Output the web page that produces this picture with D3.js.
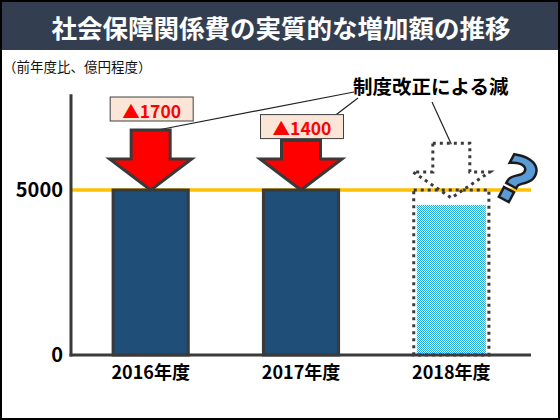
<!DOCTYPE html>
<html>
<head>
<meta charset="utf-8">
<script src="https://cdn.jsdelivr.net/npm/d3@7"></script>
<style>
  body { margin: 0; background: #fff; }
  svg text { font-family: "Noto Sans CJK JP", "Noto Sans", sans-serif; }
</style>
</head>
<body>
<script>
// chart data
var years = ["2016年度", "2017年度", "2018年度"];
var values = [5000, 5000, 4550];          // 2018 = after reduction (hatched)
var prevLevel = 5000;                     // dotted outline / orange line
var cuts = [1700, 1400, 1550];            // arrow lengths (2018 = unknown, dotted)
var cutLabels = ["▲1700", "▲1400", null];
var arrowTips = [5000, 5000, 4760];
var yTicks = [0, 5000];
var title = "社会保障関係費の実質的な増加額の推移";
var unitLabel = "（前年度比、億円程度）";
var calloutText = "制度改正による減";

var W = 560, H = 420;
var margin = {top: 95, left: 71, right: 29, bottom: 65};

var svg = d3.select("body").append("svg")
  .attr("width", W)
  .attr("height", H);

// checker pattern for the 2018 bar
var defs = svg.append("defs");
var pat = defs.append("pattern")
  .attr("id", "checker")
  .attr("width", 2).attr("height", 2)
  .attr("patternUnits", "userSpaceOnUse");
pat.append("rect").attr("width", 2).attr("height", 2).attr("fill", "#fff");
pat.append("rect").attr("width", 1).attr("height", 1).attr("fill", "#1EA6E6");
pat.append("rect").attr("x", 1).attr("y", 1).attr("width", 1).attr("height", 1).attr("fill", "#1EA6E6");

// title bar
svg.append("rect")
  .attr("width", W).attr("height", 50)
  .attr("fill", "#333F50");
svg.append("text")
  .attr("x", W / 2 + 1).attr("y", 26)
  .attr("text-anchor", "middle")
  .attr("dominant-baseline", "central")
  .attr("fill", "#fff")
  .style("font-size", "25.5px")
  .style("font-weight", "bold")
  .text(title);

svg.append("text")
  .attr("x", 3).attr("y", 66)
  .attr("dominant-baseline", "central")
  .style("font-size", "13.5px")
  .attr("fill", "#111")
  .text(unitLabel);

// scales
var xScale = d3.scaleBand()
  .domain(years)
  .range([margin.left, W - margin.right])
  .paddingInner(0.5)
  .paddingOuter(0.28);

var yScale = d3.scaleLinear()
  .domain([0, 5000])
  .range([355, 190]);

var arrowLen = d3.scaleLinear()
  .domain([0, 1700])
  .range([0, 60]);

// orange 5000 line
svg.append("line")
  .attr("x1", margin.left).attr("x2", W - margin.right)
  .attr("y1", yScale(prevLevel)).attr("y2", yScale(prevLevel))
  .attr("stroke", "#FFC000")
  .attr("stroke-width", 3.5);

// y axis (only line + two labels)
var yAxis = d3.axisLeft(yScale).tickValues(yTicks).tickFormat(d3.format("d")).tickSize(0).tickPadding(8);
var gy = svg.append("g")
  .attr("transform", "translate(" + margin.left + ",0)")
  .call(yAxis);
gy.select(".domain").remove();
gy.selectAll("text")
  .style("font-size", "20px")
  .style("font-weight", "bold")
  .attr("fill", "#000")
  .style("font-family", "'Noto Sans CJK JP', sans-serif");

svg.append("line")
  .attr("x1", margin.left).attr("x2", margin.left)
  .attr("y1", yScale(7900)).attr("y2", yScale(0) + 1.5)
  .attr("stroke", "#3A3A3A").attr("stroke-width", 3);

// bars 2016, 2017
svg.selectAll("rect.bar")
  .data(years.slice(0, 2))
  .enter()
  .append("rect")
  .attr("class", "bar")
  .attr("x", function(d) { return xScale(d); })
  .attr("y", function(d, i) { return yScale(values[i]); })
  .attr("width", xScale.bandwidth())
  .attr("height", function(d, i) { return yScale(0) - yScale(values[i]); })
  .attr("fill", "#1F4E79")
  .attr("stroke", "#3A3A3A")
  .attr("stroke-width", 3);

// 2018: hatched fill + dotted outline at previous level
var y18 = years[2];
svg.append("rect")
  .attr("x", xScale(y18) + 3)
  .attr("y", yScale(values[2]))
  .attr("width", xScale.bandwidth() - 6)
  .attr("height", yScale(0) - yScale(values[2]))
  .attr("fill", "url(#checker)");
svg.append("rect")
  .attr("x", xScale(y18))
  .attr("y", yScale(prevLevel))
  .attr("width", xScale.bandwidth())
  .attr("height", yScale(0) - yScale(prevLevel))
  .attr("fill", "none")
  .attr("stroke", "#3A3A3A")
  .attr("stroke-width", 3)
  .attr("stroke-dasharray", "3,4");

// x axis
svg.append("line")
  .attr("x1", margin.left - 1.5).attr("x2", W - margin.right)
  .attr("y1", yScale(0)).attr("y2", yScale(0))
  .attr("stroke", "#3A3A3A").attr("stroke-width", 3);

var xAxis = d3.axisBottom(xScale).tickSize(0).tickPadding(11);
var gx = svg.append("g")
  .attr("transform", "translate(0," + yScale(0) + ")")
  .call(xAxis);
gx.select(".domain").remove();
gx.selectAll("text")
  .style("font-size", "18px")
  .style("font-weight", "bold")
  .attr("fill", "#000")
  .style("font-family", "'Noto Sans CJK JP', sans-serif");

// down arrows
function arrowPath(cx, tipY, len, shaftW, headW, headH) {
  var top = tipY - len;
  var neck = tipY - headH;
  return "M" + (cx - shaftW / 2) + "," + top +
    "L" + (cx + shaftW / 2) + "," + top +
    "L" + (cx + shaftW / 2) + "," + neck +
    "L" + (cx + headW / 2) + "," + neck +
    "L" + cx + "," + tipY +
    "L" + (cx - headW / 2) + "," + neck +
    "L" + (cx - shaftW / 2) + "," + neck + "Z";
}

function arrowTop(i) {
  return yScale(arrowTips[i]) - arrowLen(cuts[i]);
}
function barCenter(i) {
  return xScale(years[i]) + xScale.bandwidth() / 2;
}

// callout text and leader lines (drawn below boxes/arrows)
svg.append("text")
  .attr("x", 353).attr("y", 85)
  .attr("dominant-baseline", "central")
  .style("font-size", "19.5px")
  .style("font-weight", "bold")
  .attr("fill", "#000")
  .text(calloutText);

var leaderStarts = [[354, 92], [358, 98], [432, 102]];
svg.selectAll("line.leader")
  .data(leaderStarts)
  .enter()
  .append("line")
  .attr("class", "leader")
  .attr("x1", function(d) { return d[0]; })
  .attr("y1", function(d) { return d[1]; })
  .attr("x2", function(d, i) { return barCenter(i) + (i == 0 ? 2 : 0); })
  .attr("y2", function(d, i) { return arrowTop(i) + 1; })
  .attr("stroke", "#222")
  .attr("stroke-width", 1.2);

svg.selectAll("path.cut")
  .data(cuts.slice(0, 2))
  .enter()
  .append("path")
  .attr("class", "cut")
  .attr("d", function(d, i) {
    return arrowPath(barCenter(i), yScale(arrowTips[i]), arrowLen(d), 39, 82, 31);
  })
  .attr("fill", "#FF0000")
  .attr("stroke", "#3A3A3A")
  .attr("stroke-width", 3)
  .attr("stroke-linejoin", "miter");

svg.append("path")
  .attr("d", arrowPath(barCenter(2), yScale(arrowTips[2]), arrowLen(cuts[2]), 37, 77, 26))
  .attr("fill", "#fff")
  .attr("fill-opacity", 0)
  .attr("stroke", "#3A3A3A")
  .attr("stroke-width", 3)
  .attr("stroke-dasharray", "3,4");

// value boxes
var boxGap = [9, 2];
var boxH = 24, boxW = 83;
cutLabels.slice(0, 2).forEach(function(lbl, i) {
  var cx = barCenter(i) + 1;
  var by = arrowTop(i) - boxGap[i] - boxH;
  svg.append("rect")
    .attr("x", cx - boxW / 2).attr("y", by)
    .attr("width", boxW).attr("height", boxH)
    .attr("fill", "#FBE5D6")
    .attr("stroke", "#404040")
    .attr("stroke-width", 1);
  svg.append("text")
    .attr("x", cx).attr("y", by + boxH / 2 + 1)
    .attr("text-anchor", "middle")
    .attr("dominant-baseline", "central")
    .attr("fill", "#FF0000")
    .style("font-size", "17.5px")
    .style("font-weight", "bold")
    .text(lbl);
});

// question mark
svg.append("text")
  .attr("transform", "translate(516,181) rotate(28)")
  .attr("text-anchor", "middle")
  .attr("dominant-baseline", "central")
  .style("font-family", "'DejaVu Sans', sans-serif")
  .style("font-size", "64px")
  .style("font-weight", "bold")
  .attr("fill", "#5B9BD5")
  .attr("stroke", "#1a1a1a")
  .attr("stroke-width", 2.5)
  .text("?");

// outer frame
svg.append("rect")
  .attr("x", 1).attr("y", 1)
  .attr("width", W - 2).attr("height", H - 2)
  .attr("fill", "none")
  .attr("stroke", "#000")
  .attr("stroke-width", 2);
</script>
</body>
</html>
